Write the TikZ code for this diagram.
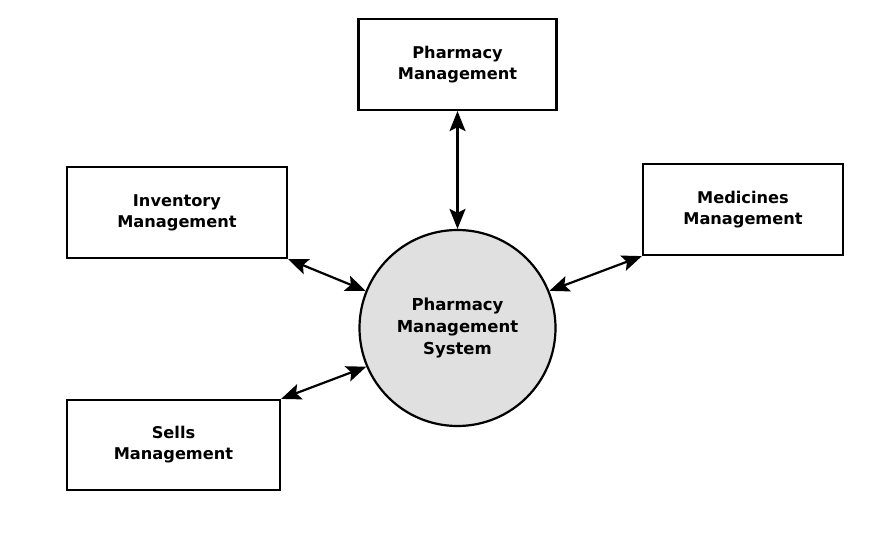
\documentclass[tikz,border=0pt]{standalone}
\usepackage{fontspec}
\setmainfont{DejaVu Sans}
\usetikzlibrary{arrows.meta}

\begin{document}
\begin{tikzpicture}[x=1pt, y=-1pt,
        module/.style={draw, line width=2.2pt, minimum height=91pt, inner sep=0pt,
            align=center, font=\fontsize{16.2}{21}\selectfont\bfseries},
        system/.style={circle, draw, line width=2.2pt, fill=black!12, minimum size=196pt,
            inner sep=0pt, align=center, font=\fontsize{16.5}{22}\selectfont\bfseries},
        flow/.style={{Stealth[length=20pt,width=16pt,inset=4pt]}-{Stealth[length=20pt,width=16pt,inset=4pt]}, line width=2.2pt}]
        \useasboundingbox (0,0) rectangle (888,545);

        \node (pms) [system] at (457.5,328) {Pharmacy\\Management\\System};

        \node (pharm) [module, minimum width=198pt] at (457.5,64.5) {Pharmacy\\Management};
        \node (inv) [module, minimum width=220pt] at (177,212.5) {Inventory\\Management};
        \node (med) [module, minimum width=200pt] at (743,209.5) {Medicines\\Management};
        \node (sells) [module, minimum width=213pt, minimum height=90pt] at (173.5,445) {Sells\\Management};

        \draw[flow] (pharm.south) -- (pms.north);
        \draw[flow] (inv.south east) -- (pms.158);
        \draw[flow] (med.south west) -- (pms.22);
        \draw[flow] (sells.north east) -- (pms.203);

    \end{tikzpicture}
\end{document}
